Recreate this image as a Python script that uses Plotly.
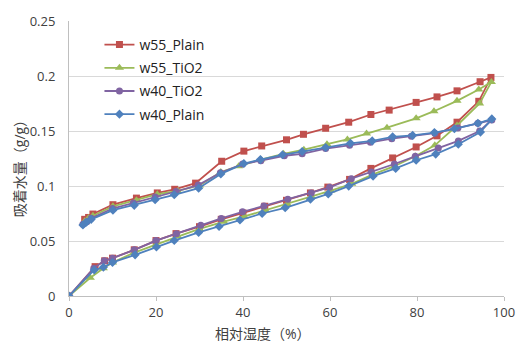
import plotly.graph_objects as go

# ---- data ----
names = ["w55_Plain", "w55_TiO2", "w40_TiO2", "w40_Plain"]

w55_plain_x = [0, 6, 8.2, 10, 15, 20, 24.6, 30, 35, 40, 45, 50, 55.5, 59.5, 64.5, 69.4, 74.4, 79.8, 84.6, 89.2, 94.2, 97,
               94.5, 89.2, 84.6, 79.8, 73.6, 69.4, 64.3, 59, 53.9, 50, 44.3, 40.2, 35.1, 29.1, 24.3, 20.3, 15.5, 10.1, 5.5, 4.5, 3.6]
w55_plain_y = [0, 0.0267, 0.032, 0.0344, 0.042, 0.0504, 0.0567, 0.063, 0.0697, 0.0755, 0.0816, 0.087, 0.0937, 0.099, 0.106, 0.116, 0.1255, 0.1355, 0.1456, 0.158, 0.177, 0.1987,
               0.1948, 0.1865, 0.181, 0.176, 0.169, 0.165, 0.158, 0.1525, 0.147, 0.142, 0.1364, 0.1317, 0.1225, 0.1026, 0.097, 0.0937, 0.089, 0.083, 0.0745, 0.0714, 0.0697]

w55_tio2_x = [0, 4.9, 7.9, 10, 15, 20, 25, 30, 35.6, 40.3, 45.2, 50.2, 55.7, 60.2, 65, 69.9, 74.8, 79.6, 84.1, 89.2, 94.4, 97.1,
              94.2, 89.2, 83.9, 79.8, 73.1, 68.4, 64, 59.3, 54, 49.3, 44.1, 39, 34.9, 30, 25, 20.3, 15.5, 10.1, 5.5, 4.5, 3.6]
w55_tio2_y = [0, 0.0166, 0.0252, 0.0305, 0.0395, 0.047, 0.054, 0.061, 0.0676, 0.0723, 0.078, 0.0836, 0.0905, 0.0958, 0.102, 0.1106, 0.118, 0.127, 0.137, 0.155, 0.175, 0.1946,
              0.1877, 0.1774, 0.168, 0.1615, 0.153, 0.1477, 0.1423, 0.138, 0.133, 0.1293, 0.124, 0.118, 0.1127, 0.1005, 0.0955, 0.0925, 0.087, 0.0815, 0.073, 0.071, 0.068]

w40_tio2_x = [0, 5.7, 8.1, 10, 15, 20, 24.7, 30.3, 35, 39.9, 44.8, 50.3, 55.7, 59.9, 64.9, 69.5, 74.8, 79.6, 84.9, 89.5, 94.4, 97.2,
              94, 89.4, 84.1, 78.7, 74.2, 69.3, 64.5, 59, 53.6, 49.5, 44.1, 39.9, 34.8, 29.7, 24.6, 19.8, 14.8, 10, 5.1, 4.1, 3.2]
w40_tio2_y = [0, 0.0252, 0.032, 0.0344, 0.042, 0.0504, 0.0567, 0.0643, 0.0705, 0.0765, 0.0818, 0.088, 0.0937, 0.0988, 0.1067, 0.1127, 0.12, 0.127, 0.1346, 0.141, 0.150, 0.160,
              0.157, 0.1527, 0.148, 0.1453, 0.143, 0.1397, 0.137, 0.134, 0.1293, 0.1275, 0.123, 0.120, 0.112, 0.1008, 0.095, 0.090, 0.0845, 0.0795, 0.0706, 0.0676, 0.0652]

w40_plain_x = [0, 5.8, 7.9, 10, 15.2, 20.1, 24.2, 29.8, 34.5, 39.3, 44.4, 49.7, 55.5, 59.6, 64.3, 69.9, 75.1, 79.8, 84.3, 89.5, 94.6, 97.2,
               94, 88.6, 84, 79, 74.4, 69.7, 64.7, 59, 53.6, 49.1, 44, 40.2, 34.9, 29.8, 24.2, 19.8, 15, 10.1, 5.1, 4, 3.2]
w40_plain_y = [0, 0.0237, 0.0261, 0.0305, 0.0374, 0.0445, 0.0504, 0.0578, 0.0632, 0.0691, 0.075, 0.0802, 0.088, 0.0928, 0.0999, 0.109, 0.116, 0.1234, 0.129, 0.1379, 0.149, 0.161,
               0.157, 0.152, 0.1486, 0.146, 0.1447, 0.141, 0.1388, 0.135, 0.1314, 0.1284, 0.124, 0.1204, 0.111, 0.098, 0.092, 0.0875, 0.0824, 0.078, 0.0697, 0.067, 0.0646]

x_ticks = [0, 20, 40, 60, 80, 100]
y_ticks = [0, 0.05, 0.1, 0.15, 0.2, 0.25]

# ---- styles ----
colors = ["#C0504D", "#9BBB59", "#8064A2", "#4F81BD"]
symbols = ["square", "triangle-up", "circle", "diamond"]
msizes = [7, 8, 7, 7]
xs = [w55_plain_x, w55_tio2_x, w40_tio2_x, w40_plain_x]
ys = [w55_plain_y, w55_tio2_y, w40_tio2_y, w40_plain_y]

FONT = "Open Sans, Noto Sans CJK JP, sans-serif"

fig = go.Figure()
for i in range(4):
    fig.add_trace(go.Scatter(
        x=xs[i], y=ys[i], name=names[i], mode="lines+markers",
        line=dict(color=colors[i], width=1.8),
        marker=dict(symbol=symbols[i], size=msizes[i], color=colors[i]),
        legendgroup=names[i],
    ))

fig.update_layout(
    width=527, height=346,
    margin=dict(l=69, r=13, t=15, b=50),
    paper_bgcolor="white", plot_bgcolor="white",
    font=dict(family=FONT, size=13, color="#404040"),
    showlegend=True,
    legend=dict(x=0.07, y=0.971, xanchor="left", yanchor="top",
                bgcolor="rgba(0,0,0,0)", font=dict(size=14, color="#222222"),
                traceorder="grouped", tracegroupgap=2, itemwidth=30),
    xaxis=dict(range=[0, 100], tickvals=x_ticks, showgrid=False, zeroline=False,
               showline=True, linecolor="#BFBFBF", linewidth=1,
               ticks="outside", ticklen=4, tickcolor="#BFBFBF",
               tickfont=dict(size=13, color="#404040")),
    yaxis=dict(range=[0, 0.25], tickvals=y_ticks, showgrid=True, gridcolor="#D9D9D9",
               zeroline=False, showline=True, linecolor="#BFBFBF", linewidth=1,
               ticks="", ticklabelstandoff=10,
               tickfont=dict(size=13, color="#404040")),
    annotations=[
        dict(text="相対湿度（%）", xref="paper", yref="paper", x=0.447, y=-0.135,
             xanchor="center", yanchor="middle", showarrow=False,
             font=dict(size=14, color="#404040")),
        dict(text="吸着水量（g/g）", xref="paper", yref="paper", x=-0.113, y=0.475,
             xanchor="center", yanchor="middle", showarrow=False, textangle=-90,
             font=dict(size=14, color="#404040")),
    ],
)

fig.write_html("out.html")
